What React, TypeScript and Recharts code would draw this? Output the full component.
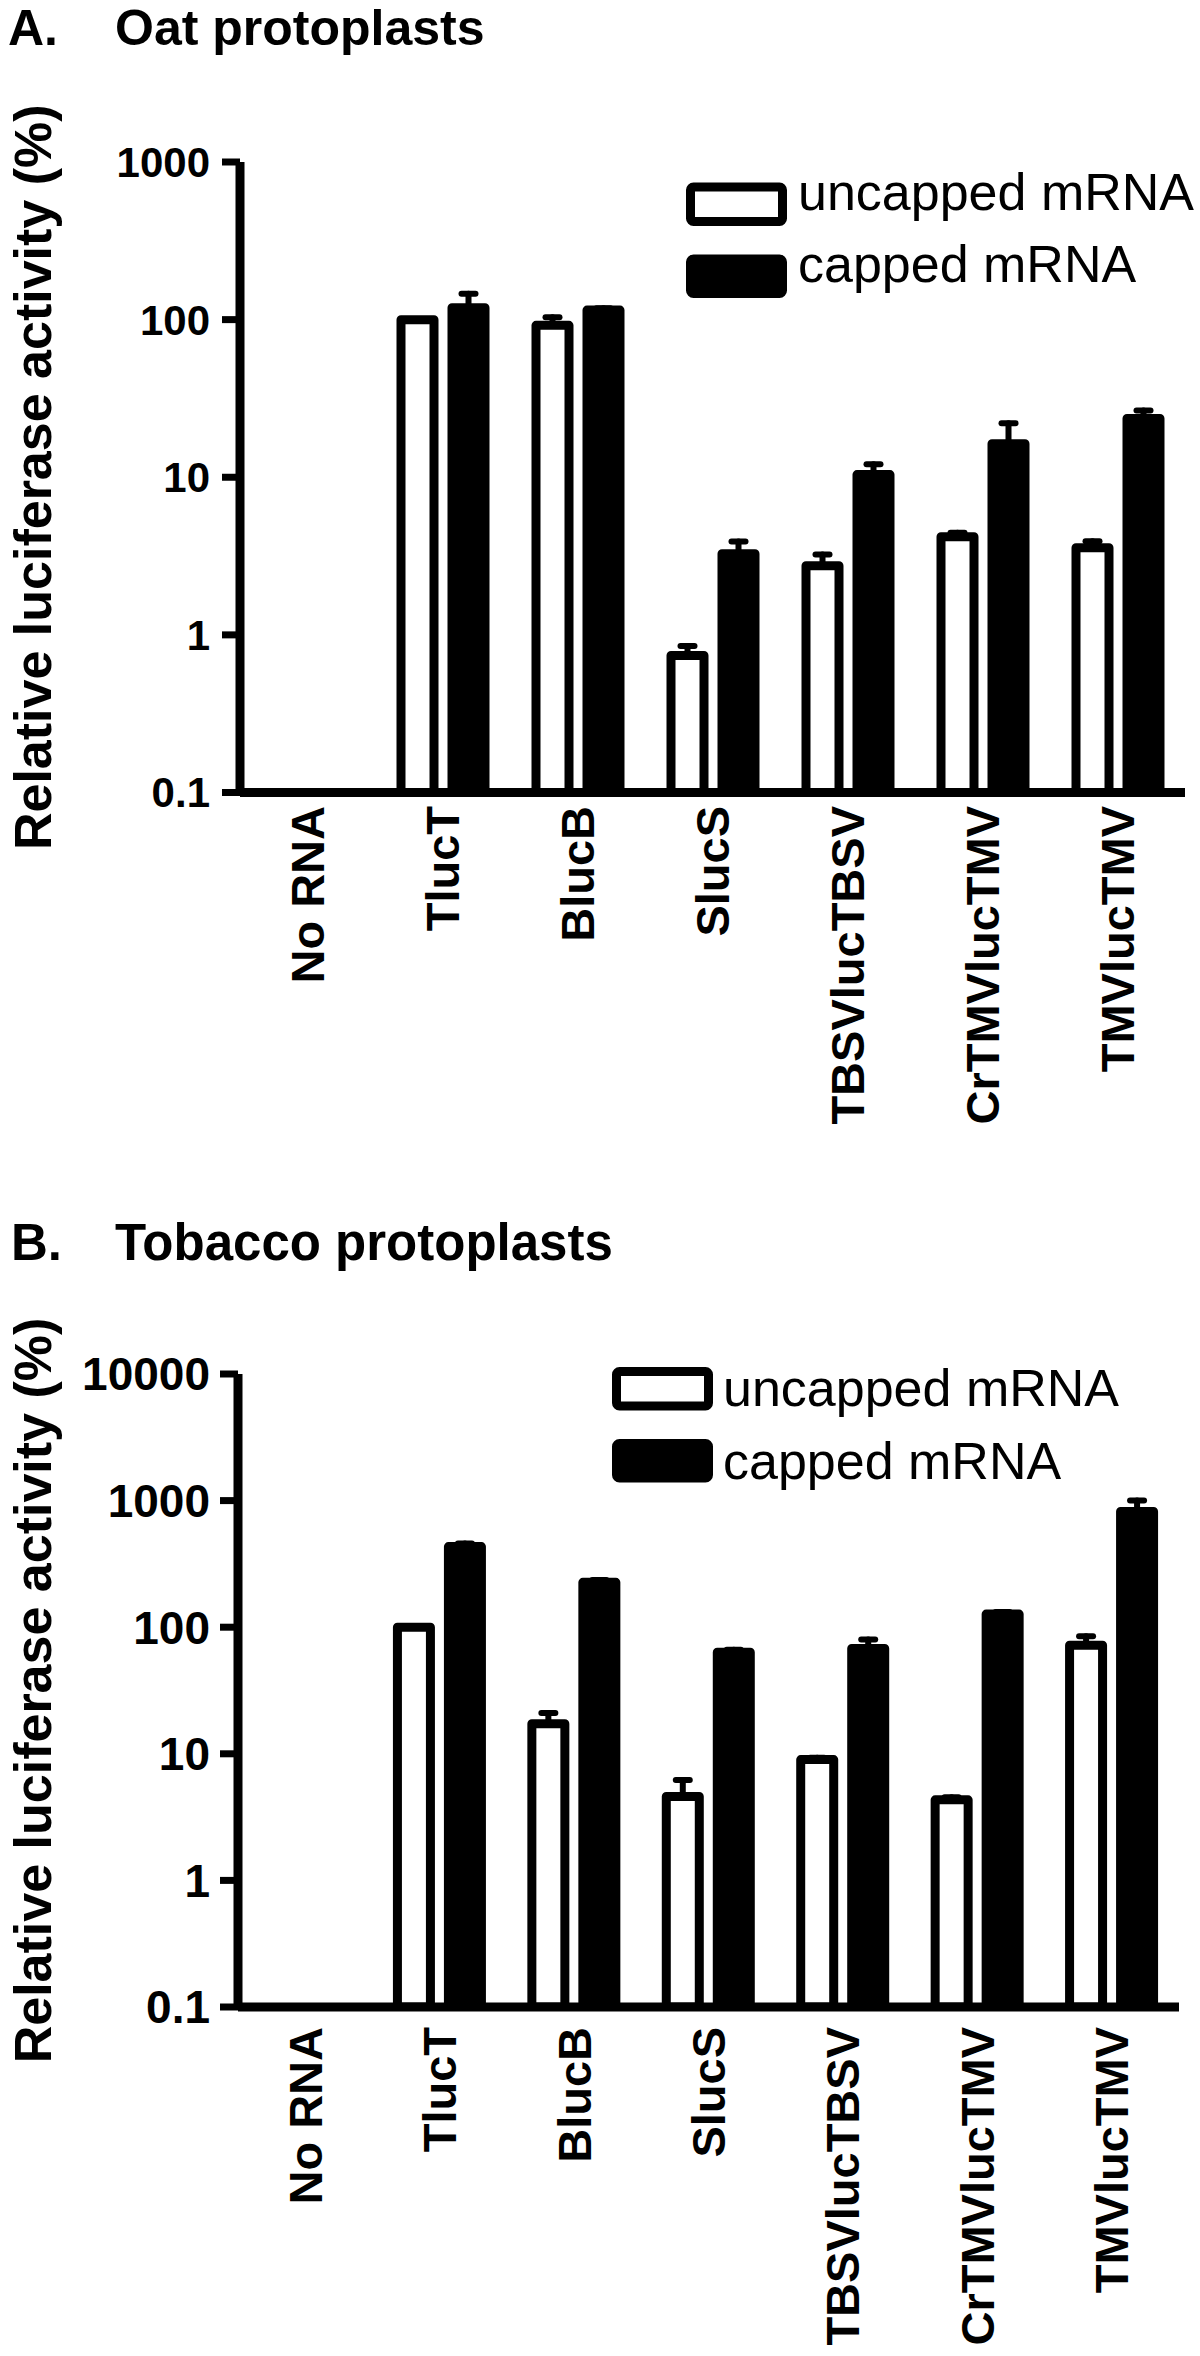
import React from "react";
import { BarChart, Bar, XAxis, YAxis, ErrorBar } from "recharts";

const FONT = '"Liberation Sans", Arial, Helvetica, sans-serif';

const constructs = ["No RNA", "TlucT", "BlucB", "SlucS", "TBSVlucTBSV", "CrTMVlucTMV", "TMVlucTMV"];

// A. oat protoplasts (relative luciferase activity, %)
const oatUncapped = [null, 100, 92, 0.74, 2.75, 4.2, 3.57];
const oatUncappedErr = [null, null, 11.5, 0.11, 0.49, 0.25, 0.35];
const oatCapped = [null, 119, 115, 3.27, 10.4, 16.3, 23.6];
const oatCappedErr = [null, 27, 3, 0.64, 1.7, 5.7, 2.9];
const oatTicks = [0.1, 1, 10, 100, 1000];

// B. tobacco protoplasts
const tobUncapped = [null, 100, 17.3, 4.6, 9.0, 4.33, 72];
const tobUncappedErr = [null, null, 3.7, 1.6, 0.3, 0.2, 13];
const tobCapped = [null, 433, 226, 63.5, 68, 127, 820];
const tobCappedErr = [null, 25, 10, 3, 12, 5, 180];
const tobTicks = [0.1, 1, 10, 100, 1000, 10000];

const yTitle = "Relative luciferase activity (%)";

function buildRows(u: any[], ue: any[], c: any[], ce: any[]) {
  return constructs.map((name, i) => ({
    name,
    uncapped: u[i],
    capped: c[i],
    uErr: ue[i] == null ? null : [0, ue[i]],
    cErr: ce[i] == null ? null : [0, ce[i]],
  }));
}

const XTick = ({ x, y, payload, shift, size }: any) => (
  <text
    transform={`translate(${x},${y + shift}) rotate(-90)`}
    textAnchor="end"
    dominantBaseline="central"
    fontFamily={FONT}
    fontWeight="bold"
    fontSize={size}
    fill="#000"
  >
    {payload.value}
  </text>
);

function Panel(props: any) {
  const { data, ticks, width, height, top, left, right, xAxisH, tickFont, tickMargin, xShift } = props;
  return (
    <BarChart
      width={width}
      height={height}
      data={data}
      barGap={18}
      margin={{ top, right, bottom: 0, left }}
    >
      <XAxis
        dataKey="name"
        interval={0}
        height={xAxisH}
        tickLine={false}
        tickSize={0}
        tickMargin={0}
        axisLine={{ stroke: "#000", strokeWidth: 9 }}
        tick={<XTick shift={xShift} size={47} />}
      />
      <YAxis
        type="number"
        scale="log"
        domain={[ticks[0], ticks[ticks.length - 1]]}
        allowDataOverflow
        ticks={ticks}
        interval={0}
        width={120}
        tickSize={18}
        tickMargin={tickMargin}
        tickFormatter={(v: number) => String(v)}
        tick={{ fontFamily: FONT, fontWeight: "bold", fontSize: tickFont, fill: "#000" }}
        tickLine={{ stroke: "#000", strokeWidth: 7 }}
        axisLine={{ stroke: "#000", strokeWidth: 9 }}
        label={(p: any) => {
          const vb = p.viewBox || {};
          const cy = vb.y + vb.height / 2;
          return (
            <text
              transform={`translate(51,${cy}) rotate(-90)`}
              textAnchor="middle"
              fontFamily={FONT}
              fontWeight="bold"
              fontSize={52}
              fill="#000"
            >
              {yTitle}
            </text>
          );
        }}
      />
      <Bar dataKey="uncapped" fill="#fff" stroke="#000" strokeWidth={9} strokeLinejoin="round" barSize={33} isAnimationActive={false}>
        <ErrorBar dataKey="uErr" direction="y" width={7} stroke="#000" strokeWidth={6} strokeLinecap="round" isAnimationActive={false} />
      </Bar>
      <Bar dataKey="capped" fill="#000" stroke="#000" strokeWidth={9} strokeLinejoin="round" barSize={33} isAnimationActive={false}>
        <ErrorBar dataKey="cErr" direction="y" width={7} stroke="#000" strokeWidth={6} strokeLinecap="round" isAnimationActive={false} />
      </Bar>
    </BarChart>
  );
}

function LegendBlock({ x, y0, y1, tx, b0, b1 }: any) {
  return (
    <g>
      <rect x={x} y={y0} width={92} height={34.5} rx={3} fill="#fff" stroke="#000" strokeWidth={9} />
      <rect x={x} y={y1} width={92} height={34.5} rx={3} fill="#000" stroke="#000" strokeWidth={9} />
      <text x={tx} y={b0} fontFamily={FONT} fontSize={52} fill="#000">uncapped mRNA</text>
      <text x={tx} y={b1} fontFamily={FONT} fontSize={52} fill="#000">capped mRNA</text>
    </g>
  );
}

export default function App() {
  const oatData = buildRows(oatUncapped, oatUncappedErr, oatCapped, oatCappedErr);
  const tobData = buildRows(tobUncapped, tobUncappedErr, tobCapped, tobCappedErr);
  return (
    <div style={{ position: "absolute", left: 0, top: 0, width: 1200, height: 2356, background: "#fff" }}>
      <div style={{ position: "absolute", left: 0, top: 0 }}>
        <Panel
          data={oatData}
          ticks={oatTicks}
          width={1200}
          height={1150}
          top={162}
          left={120}
          right={15}
          xAxisH={357.5}
          tickFont={42}
          tickMargin={12}
          xShift={13.5}
        />
      </div>
      <div style={{ position: "absolute", left: 0, top: 1150 }}>
        <Panel
          data={tobData}
          ticks={tobTicks}
          width={1200}
          height={1206}
          top={224}
          left={118}
          right={21}
          xAxisH={349}
          tickFont={46}
          tickMargin={10}
          xShift={20}
        />
      </div>
      <svg width={1200} height={2356} style={{ position: "absolute", left: 0, top: 0, pointerEvents: "none" }}>
        <text x={8} y={45} fontFamily={FONT} fontWeight="bold" fontSize={50} fill="#000">A.</text>
        <text x={115} y={45} fontFamily={FONT} fontWeight="bold" fontSize={50} fill="#000">Oat protoplasts</text>
        <text x={11} y={1260} fontFamily={FONT} fontWeight="bold" fontSize={51} fill="#000">B.</text>
        <text x={115} y={1260} fontFamily={FONT} fontWeight="bold" fontSize={51} fill="#000">Tobacco protoplasts</text>
        <LegendBlock x={690.5} y0={187} y1={259} tx={798} b0={210} b1={282} />
        <LegendBlock x={616.5} y0={1371.5} y1={1443.5} tx={723} b0={1406} b1={1478.6} />
      </svg>
    </div>
  );
}
